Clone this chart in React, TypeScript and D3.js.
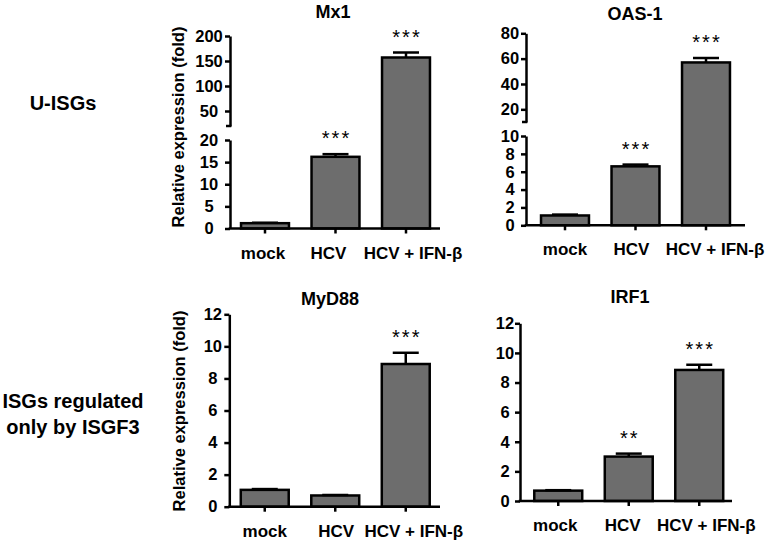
import React, { useRef, useEffect } from 'react';
import { select, scaleBand, scaleLinear, axisLeft, axisBottom } from 'd3';

const categories = ['mock', 'HCV', 'HCV + IFN-β'];

const mx1Values = [1.2, 16.2, 157];
const mx1Errors = [0.1, 0.6, 10];
const mx1Stars = ['', '***', '***'];
const mx1LowTicks = [0, 5, 10, 15, 20];
const mx1HighTicks = [50, 100, 150, 200];

const oasValues = [1.1, 6.6, 57];
const oasErrors = [0.1, 0.2, 3.5];
const oasStars = ['', '***', '***'];
const oasLowTicks = [0, 2, 4, 6, 8, 10];
const oasHighTicks = [20, 40, 60, 80];

const myd88Values = [1.05, 0.7, 8.9];
const myd88Errors = [0.05, 0.03, 0.7];
const myd88Stars = ['', '', '***'];
const myd88Ticks = [0, 2, 4, 6, 8, 10, 12];

const irf1Values = [0.7, 3.0, 8.85];
const irf1Errors = [0.03, 0.2, 0.35];
const irf1Stars = ['', '**', '***'];
const irf1Ticks = [0, 2, 4, 6, 8, 10, 12];

const FONT = '"Liberation Sans", Arial, sans-serif';
const FILL = '#6d6d6d';
const SW = 2.5;

const panels = [
  {
    title: 'Mx1', values: mx1Values, errors: mx1Errors, stars: mx1Stars,
    axisX: 230, axisEnd: 440, bandStart: 229.75, baseY: 228.5, labelOff: 21,
    catShift: [-2, -7, 7],
    low: { domain: [0, 20], range: [228.5, 140], ticks: mx1LowTicks },
    high: { domain: [20, 200], range: [126, 36], ticks: mx1HighTicks },
    titleX: 333, titleY: 17.5, yLabel: { x: 178, y: 127 },
  },
  {
    title: 'OAS-1', values: oasValues, errors: oasErrors, stars: oasStars,
    axisX: 526, axisEnd: 745, bandStart: 529.75, baseY: 225.3, labelOff: 16,
    catShift: [0, -4, 9],
    low: { domain: [0, 10], range: [225.3, 136], ticks: oasLowTicks },
    high: { domain: [10, 80], range: [122, 33.3], ticks: oasHighTicks },
    titleX: 635, titleY: 19.5, yLabel: null,
  },
  {
    title: 'MyD88', values: myd88Values, errors: myd88Errors, stars: myd88Stars,
    axisX: 229.3, axisEnd: 440, bandStart: 229.5, baseY: 506.7, labelOff: 16.5,
    catShift: [0, 1, 8],
    low: { domain: [0, 12], range: [506.7, 314.3], ticks: myd88Ticks },
    high: null,
    titleX: 330, titleY: 305, yLabel: { x: 179, y: 411 },
  },
  {
    title: 'IRF1', values: irf1Values, errors: irf1Errors, stars: irf1Stars,
    axisX: 520, axisEnd: 732, bandStart: 523, baseY: 501, labelOff: 15,
    catShift: [-3, -6, 7],
    low: { domain: [0, 12], range: [501, 323.3], ticks: irf1Ticks },
    high: null,
    titleX: 630, titleY: 303, yLabel: null,
  },
];

const Figure = () => {
  const svgRef = useRef(null);

  useEffect(() => {
    const svg = select(svgRef.current);
    svg.selectAll('*').remove();

    // row labels
    svg.append('text')
      .attr('x', 63).attr('y', 110)
      .attr('text-anchor', 'middle')
      .style('font', `bold 20px ${FONT}`)
      .text('U-ISGs');
    const rows = svg.append('text')
      .attr('text-anchor', 'middle')
      .style('font', `bold 20px ${FONT}`);
    rows.append('tspan').attr('x', 73).attr('y', 408).text('ISGs regulated');
    rows.append('tspan').attr('x', 73).attr('y', 434).text('only by ISGF3');

    panels.forEach((p) => {
      const g = svg.append('g');
      const x = scaleBand<string>()
        .domain(categories)
        .range([p.bandStart, p.bandStart + 211.5])
        .paddingInner(0.32)
        .paddingOuter(0.16);
      const yLow = scaleLinear().domain(p.low.domain).range(p.low.range);
      const yHigh = p.high ? scaleLinear().domain(p.high.domain).range(p.high.range) : null;
      const y = (v: number) => (yHigh && v > p.low.domain[1] ? yHigh(v) : yLow(v));

      // bars
      g.selectAll('rect.bar')
        .data(p.values)
        .join('rect')
        .attr('class', 'bar')
        .attr('x', (_, i) => x(categories[i])!)
        .attr('width', x.bandwidth())
        .attr('y', (v) => y(v))
        .attr('height', (v) => p.baseY - y(v))
        .attr('fill', FILL)
        .attr('stroke', '#000')
        .attr('stroke-width', SW);

      // error bars
      const cx = (i: number) => x(categories[i])! + x.bandwidth() / 2;
      g.selectAll('line.err')
        .data(p.values)
        .join('line')
        .attr('class', 'err')
        .attr('x1', (_, i) => cx(i)).attr('x2', (_, i) => cx(i))
        .attr('y1', (v) => y(v))
        .attr('y2', (v, i) => y(v + p.errors[i]))
        .attr('stroke', '#000').attr('stroke-width', SW);
      g.selectAll('line.cap')
        .data(p.values)
        .join('line')
        .attr('class', 'cap')
        .attr('x1', (_, i) => cx(i) - 13).attr('x2', (_, i) => cx(i) + 13)
        .attr('y1', (v, i) => y(v + p.errors[i]))
        .attr('y2', (v, i) => y(v + p.errors[i]))
        .attr('stroke', '#000').attr('stroke-width', SW);

      // significance stars
      g.selectAll('text.star')
        .data(p.stars)
        .join('text')
        .attr('class', 'star')
        .attr('x', (_, i) => cx(i) + 1)
        .attr('y', (_, i) => y(p.values[i] + p.errors[i]) - 9)
        .attr('text-anchor', 'middle')
        .style('font', `20px ${FONT}`)
        .style('letter-spacing', '2px')
        .text((s) => s);

      // y axis segments
      const styleAxis = (a: any) => {
        a.selectAll('path').attr('stroke', '#000').attr('stroke-width', SW);
        a.selectAll('line').attr('stroke', '#000').attr('stroke-width', SW);
        a.selectAll('text').style('font', `bold 16.5px ${FONT}`).attr('fill', '#000');
      };
      const centerLabels = (a: any) => {
        a.selectAll('text').attr('x', -p.labelOff).attr('text-anchor', 'middle');
      };
      const lowAxis = g.append('g')
        .attr('transform', `translate(${p.axisX},0)`)
        .call(axisLeft(yLow).tickValues(p.low.ticks).tickSize(5).tickSizeOuter(0));
      styleAxis(lowAxis);
      centerLabels(lowAxis);
      if (yHigh && p.high) {
        const highAxis = g.append('g')
          .attr('transform', `translate(${p.axisX},0)`)
          .call(axisLeft(yHigh).tickValues(p.high.ticks).tickSize(5).tickSizeOuter(0));
        styleAxis(highAxis);
        centerLabels(highAxis);
        // small foot at the break
        g.append('line')
          .attr('x1', p.axisX - 4).attr('x2', p.axisX + 1.25)
          .attr('y1', p.high.range[0]).attr('y2', p.high.range[0])
          .attr('stroke', '#000').attr('stroke-width', SW);
      }

      // x axis
      const xAxis = g.append('g')
        .attr('transform', `translate(0,${p.baseY})`)
        .call(axisBottom(x).tickSize(5).tickSizeOuter(0).tickPadding(13));
      xAxis.select('.domain').remove();
      styleAxis(xAxis);
      xAxis.selectAll('text')
        .style('font', `bold 17px ${FONT}`)
        .attr('x', (_, i) => p.catShift[i]);
      g.append('line')
        .attr('x1', p.axisX - 1.25).attr('x2', p.axisEnd)
        .attr('y1', p.baseY).attr('y2', p.baseY)
        .attr('stroke', '#000').attr('stroke-width', SW);

      // title
      g.append('text')
        .attr('x', p.titleX).attr('y', p.titleY)
        .attr('text-anchor', 'middle')
        .style('font', `bold 18px ${FONT}`)
        .text(p.title);

      if (p.yLabel) {
        g.append('text')
          .attr('transform', `translate(${p.yLabel.x + 5.5},${p.yLabel.y}) rotate(-90)`)
          .attr('text-anchor', 'middle')
          .style('font', `bold 16.5px ${FONT}`)
          .text('Relative expression (fold)');
      }
    });
  }, []);

  return (
    <svg
      ref={svgRef}
      width={768}
      height={542}
      style={{ position: 'absolute', left: 0, top: 0, background: '#fff' }}
    />
  );
};

export default function App() {
  return (
    <div>
      <Figure />
    </div>
  );
}
